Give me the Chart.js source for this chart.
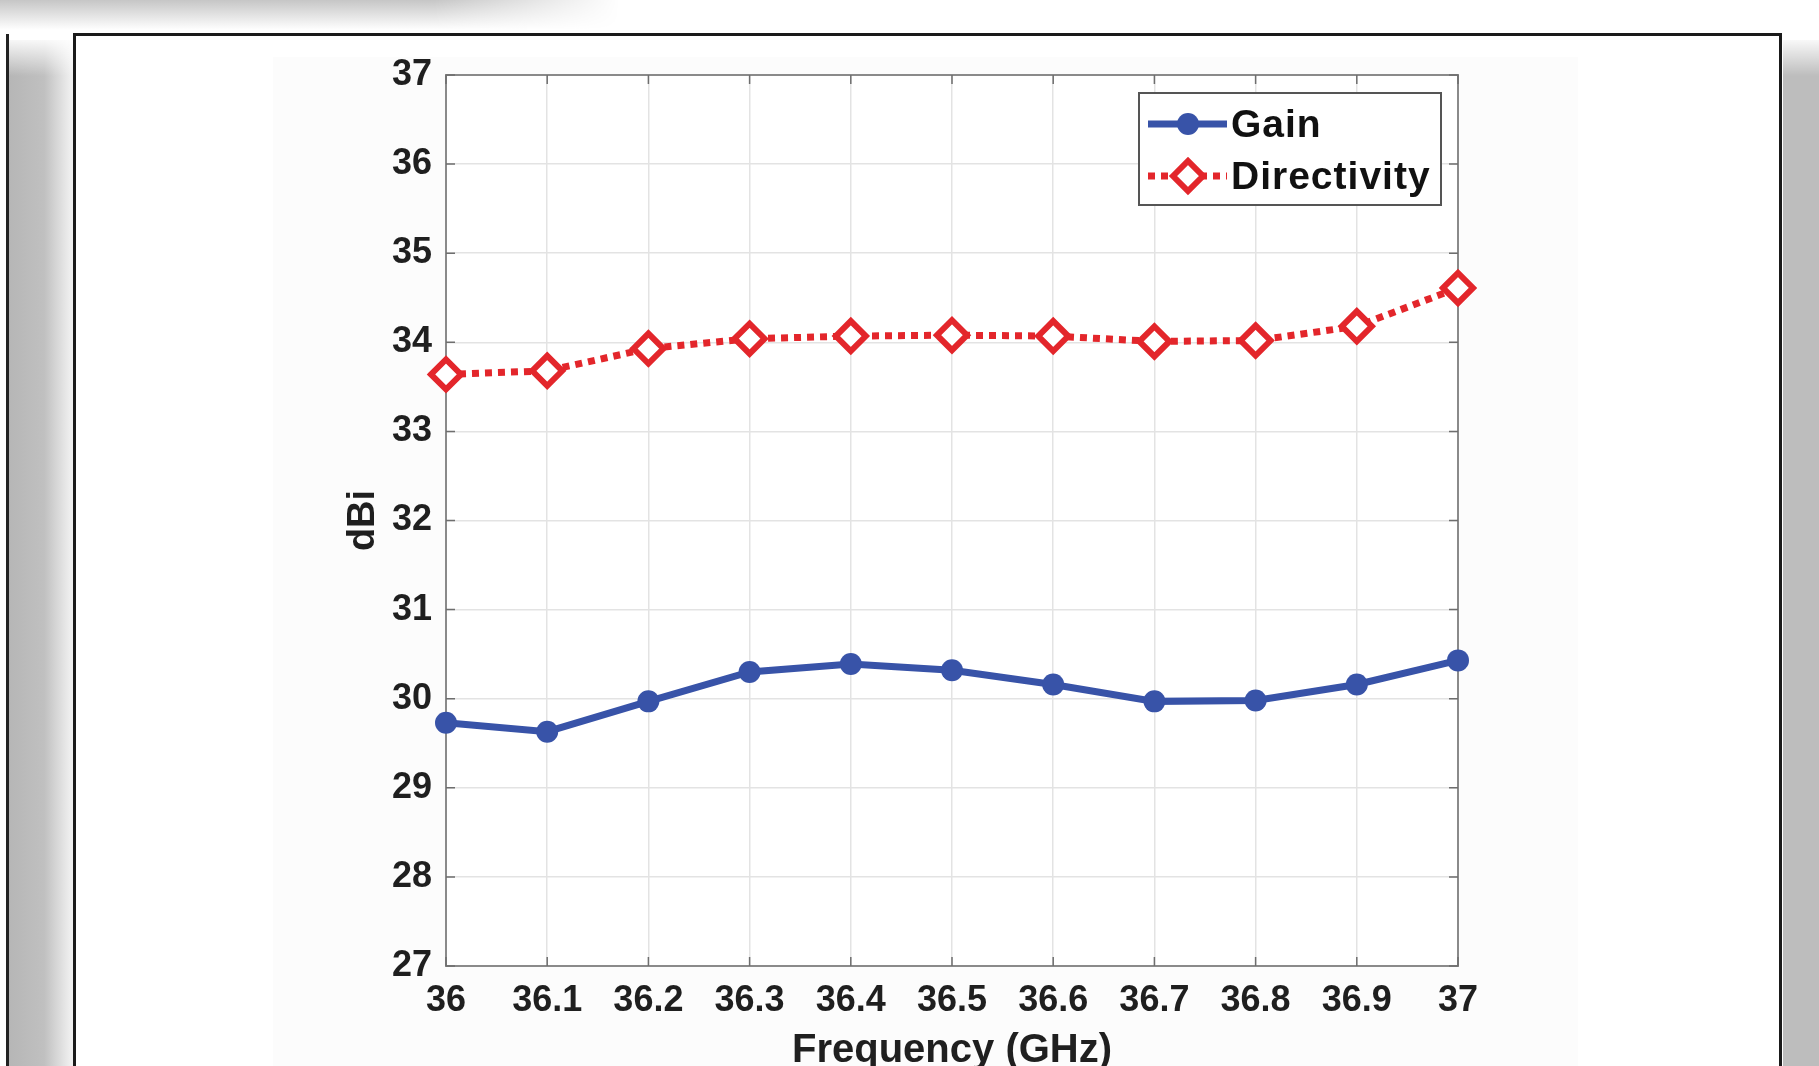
<!DOCTYPE html>
<html>
<head>
<meta charset="utf-8">
<title>Gain and Directivity</title>
<script src="https://cdn.jsdelivr.net/npm/chart.js@4.4.1/dist/chart.umd.min.js"></script>
<style>
  html, body { margin: 0; padding: 0; width: 1819px; height: 1066px; overflow: hidden; background: #fff; }
  .deco { position: absolute; }
  .topfade { left: 0; top: 0; width: 620px; height: 30px; background: linear-gradient(to bottom, #c6c6c6, #fff); -webkit-mask-image: linear-gradient(to right, #000 70%, transparent 100%); mask-image: linear-gradient(to right, #000 70%, transparent 100%); }
  .leftline { left: 6px; top: 34px; width: 3px; height: 1040px; background: #222; }
  .leftshade { left: 9px; top: 40px; width: 64px; height: 1030px; background: linear-gradient(to right, #b6b6b6 0%, #c0c0c0 55%, #eeeeee 95%); }
  .leftshade-top { left: 9px; top: 36px; width: 64px; height: 40px; background: linear-gradient(to bottom, #fff, rgba(255,255,255,0)); }
  .rightshade { left: 1783px; top: 40px; width: 36px; height: 1030px; background: #bdbdbd; }
  .rightshade-top { left: 1783px; top: 36px; width: 36px; height: 40px; background: linear-gradient(to bottom, #fff, rgba(255,255,255,0)); }
  .frame { left: 73px; top: 33px; width: 1703px; height: 1100px; border: 3px solid #1a1a1a; background: #fff; }
  .figbg { left: 273px; top: 57px; width: 1305px; height: 1020px; background: #fcfcfc; }
  #chart { position: absolute; left: 0; top: 0; }
</style>
</head>
<body>
<div class="deco topfade"></div>
<div class="deco leftshade"></div>
<div class="deco leftshade-top"></div>
<div class="deco leftline"></div>
<div class="deco rightshade"></div>
<div class="deco rightshade-top"></div>
<div class="deco frame"></div>
<div class="deco figbg"></div>
<canvas id="chart" width="1819" height="1100"></canvas>
<script>
// data
const freqLabels = ['36', '36.1', '36.2', '36.3', '36.4', '36.5', '36.6', '36.7', '36.8', '36.9', '37'];
const gainValues = [29.73, 29.63, 29.97, 30.30, 30.39, 30.32, 30.16, 29.97, 29.98, 30.16, 30.43];
const directivityValues = [33.64, 33.68, 33.93, 34.04, 34.07, 34.08, 34.07, 34.01, 34.02, 34.18, 34.61];
const yMin = 27;
const yMax = 37;

const textColor = '#1f1f1f';
const fontFamily = '"Liberation Sans", Arial, sans-serif';

// white plot area, axes box (top + right edges) and small inward ticks like matlab
const axesBox = {
  id: 'axesBox',
  beforeDraw(chart) {
    const { ctx, chartArea: a } = chart;
    ctx.save();
    ctx.fillStyle = '#fff';
    ctx.fillRect(a.left, a.top, a.right - a.left, a.bottom - a.top);
    ctx.restore();
  },
  beforeDatasetsDraw(chart) {
    const { ctx, chartArea: a, scales } = chart;
    ctx.save();
    ctx.strokeStyle = '#8a8a8a';
    ctx.lineWidth = 2;
    ctx.strokeRect(a.left, a.top, a.right - a.left, a.bottom - a.top);
    ctx.strokeStyle = '#6e6e6e';
    ctx.lineWidth = 1.5;
    ctx.beginPath();
    scales.x.ticks.forEach((t, i) => {
      const px = scales.x.getPixelForTick(i);
      ctx.moveTo(px, a.bottom); ctx.lineTo(px, a.bottom - 9);
      ctx.moveTo(px, a.top); ctx.lineTo(px, a.top + 9);
    });
    scales.y.ticks.forEach((t, i) => {
      const py = scales.y.getPixelForTick(i);
      ctx.moveTo(a.left, py); ctx.lineTo(a.left + 9, py);
      ctx.moveTo(a.right, py); ctx.lineTo(a.right - 9, py);
    });
    ctx.stroke();
    ctx.restore();
  }
};

// legend box in the upper right corner, line + marker samples
const legendBox = {
  id: 'legendBox',
  afterDraw(chart) {
    const { ctx, chartArea } = chart;
    const w = 302, h = 112;
    const x = chartArea.right - 17 - w;
    const y = chartArea.top + 18;
    ctx.save();
    ctx.fillStyle = '#fff';
    ctx.fillRect(x, y, w, h);
    ctx.strokeStyle = '#555';
    ctx.lineWidth = 2;
    ctx.strokeRect(x, y, w, h);
    chart.data.datasets.forEach((ds, i) => {
      const cy = y + 31 + i * 52;
      ctx.strokeStyle = ds.borderColor;
      ctx.lineWidth = ds.borderWidth;
      ctx.setLineDash(ds.borderDash || []);
      ctx.beginPath();
      ctx.moveTo(x + 9, cy);
      ctx.lineTo(x + 88, cy);
      ctx.stroke();
      ctx.setLineDash([]);
      ctx.fillStyle = ds.pointBackgroundColor;
      ctx.strokeStyle = ds.pointBorderColor;
      ctx.lineWidth = ds.pointBorderWidth;
      Chart.helpers.drawPoint(ctx, {
        pointStyle: ds.pointStyle,
        radius: ds.pointRadius,
        borderWidth: ds.pointBorderWidth,
        rotation: 0
      }, x + 49, cy);
      ctx.fillStyle = '#111';
      ctx.font = 'bold 39px ' + fontFamily;
      ctx.letterSpacing = '1px';
      ctx.textBaseline = 'middle';
      ctx.textAlign = 'left';
      ctx.fillText(ds.label, x + 92, cy + 2);
    });
    ctx.restore();
  }
};

new Chart('chart', {
  type: 'line',
  data: {
    labels: freqLabels,
    datasets: [
      {
        label: 'Gain',
        data: gainValues,
        borderColor: '#3853a8',
        borderWidth: 7,
        pointStyle: 'circle',
        pointRadius: 11,
        pointBackgroundColor: '#3853a8',
        pointBorderColor: '#3853a8',
        pointBorderWidth: 0,
        tension: 0,
        clip: false
      },
      {
        label: 'Directivity',
        data: directivityValues,
        borderColor: '#e3262b',
        borderWidth: 7,
        borderDash: [7, 6],
        pointStyle: 'rectRot',
        pointRadius: 15,
        pointBackgroundColor: '#fff',
        pointBorderColor: '#e3262b',
        pointBorderWidth: 6,
        tension: 0,
        clip: false
      }
    ]
  },
  options: {
    responsive: false,
    animation: false,
    layout: { padding: { top: 75, right: 361, left: 341, bottom: 0 } },
    plugins: {
      legend: { display: false },
      tooltip: { enabled: false }
    },
    scales: {
      x: {
        type: 'category',
        offset: false,
        grid: { color: '#e3e3e3', lineWidth: 1.5, drawTicks: false },
        border: { color: '#8a8a8a', width: 2 },
        ticks: {
          color: textColor,
          font: { family: fontFamily, size: 36, weight: 'bold' },
          padding: 13,
          maxRotation: 0,
          autoSkip: false
        },
        title: {
          display: true,
          text: 'Frequency (GHz)',
          color: textColor,
          font: { family: fontFamily, size: 40, weight: 'bold' },
          padding: { top: 0, bottom: 25 }
        },
        afterFit(scale) { scale.height = 134; }
      },
      y: {
        min: yMin,
        max: yMax,
        grid: { color: '#e3e3e3', lineWidth: 1.5, drawTicks: false },
        border: { color: '#8a8a8a', width: 2 },
        ticks: {
          stepSize: 1,
          color: textColor,
          font: { family: fontFamily, size: 36, weight: 'bold' },
          padding: 14
        },
        title: {
          display: true,
          text: 'dBi',
          color: textColor,
          font: { family: fontFamily, size: 38, weight: 'bold' },
          padding: 0
        },
        afterFit(scale) { scale.width = 105; }
      }
    }
  },
  plugins: [axesBox, legendBox]
});
</script>
</body>
</html>
